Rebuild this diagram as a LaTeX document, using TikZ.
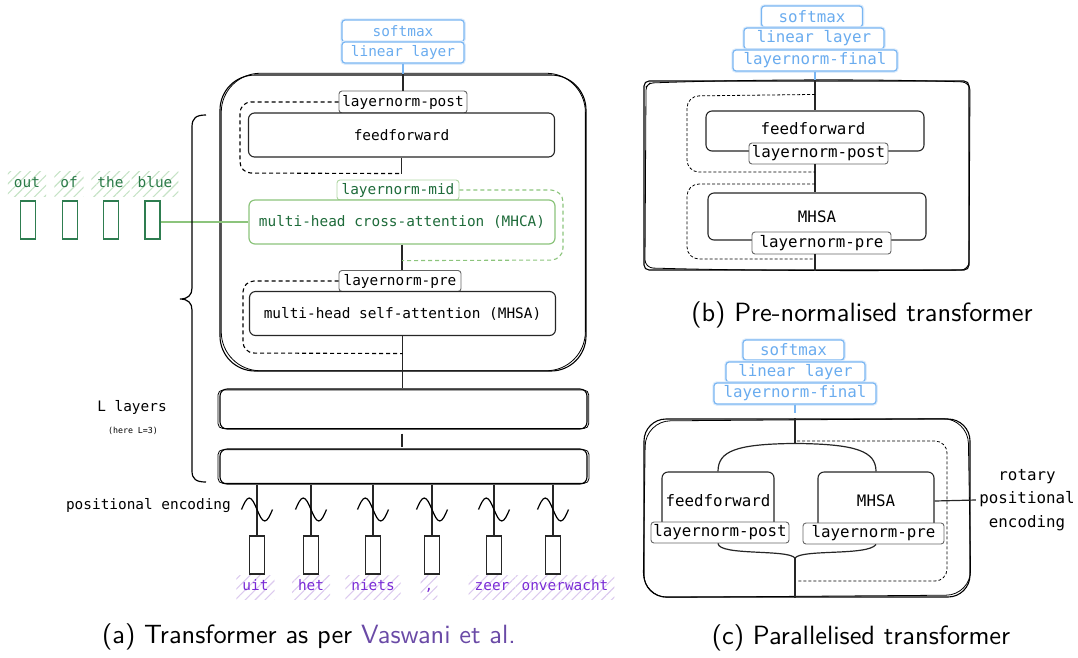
\documentclass[tikz,border=0pt]{standalone}
\usepackage{fontspec}
\setmonofont{DejaVu Sans Mono}
\usetikzlibrary{calc,patterns.meta}

\definecolor{lnblue}{HTML}{7AB6F2}
\definecolor{lnbluetxt}{HTML}{6AACEF}
\definecolor{lnbluehalo}{HTML}{DDECFC}
\definecolor{mhcagreen}{HTML}{8CC47C}
\definecolor{mhcatext}{HTML}{1E6B3A}
\definecolor{tokgreen}{HTML}{2E7D50}
\definecolor{wordgreen}{HTML}{2A7A48}
\definecolor{hatchgreen}{HTML}{C6E3C6}
\definecolor{wordpurple}{HTML}{7A2BD6}
\definecolor{hatchpurple}{HTML}{DCCAEE}
\definecolor{citepurple}{HTML}{6A4AA6}

\begin{document}
\begin{tikzpicture}[x=1pt,y=-1pt,
  monoa/.style={font=\ttfamily\fontsize{14.4}{17}\selectfont},
  monob/.style={font=\ttfamily\fontsize{15.8}{23.3}\selectfont},
  tinymono/.style={font=\ttfamily\fontsize{8.3}{10}\selectfont},
  capfont/.style={font=\sffamily\fontsize{10}{12}\selectfont, scale=2.64},
  sz/.style 2 args={minimum width=#1, minimum height=#2, inner sep=0},
  blockbox/.style={draw=black!85, line width=1.1, rounded corners=6, fill=white},
  greenbox/.style={draw=mhcagreen, line width=1.2, rounded corners=6, text=mhcatext, fill=white},
  normbox/.style={draw=black!60, fill=white, line width=0.9, rounded corners=3},
  gnormbox/.style={draw=mhcagreen!70, fill=white, line width=0.9, rounded corners=3, text=mhcatext},
  bluebox/.style={draw=lnblue, line width=1.2, rounded corners=3, text=lnbluetxt, fill=white,
                  preaction={draw=lnbluehalo, line width=3.5}},
  sketch/.style={draw=black, line width=1.1},
  link/.style={draw=black!85, line width=1.2},
  bluelink/.style={draw=lnblue, line width=1.4},
  glink/.style={draw=mhcagreen, line width=1.3},
  resid/.style={draw=black, line width=1.1, dash pattern=on 4pt off 3pt, rounded corners=11},
  gresid/.style={draw=mhcagreen, line width=1.1, dash pattern=on 4pt off 3pt, rounded corners=12},
  residfine/.style={draw=black, line width=0.8, dash pattern=on 3pt off 2pt, rounded corners=12},
  tokbox/.style={draw=black!85, line width=1.1, sz={15}{38}},
  gtokbox/.style={draw=tokgreen, line width=1.1, sz={15}{38}},
  wave/.style={draw=black, line width=1.2},
  wordp/.style={monoa, text=wordpurple, inner xsep=6, inner ysep=0, minimum height=24,
                text height=10.5, text depth=3,
                pattern={Lines[angle=45,distance=7pt,line width=1.1pt]}, pattern color=hatchpurple},
  wordg/.style={monoa, text=wordgreen, inner xsep=6, inner ysep=0, minimum height=25,
                text height=10.5, text depth=3,
                pattern={Lines[angle=45,distance=7pt,line width=1.1pt]}, pattern color=hatchgreen},
]
\useasboundingbox (0,0) rectangle (1078,657);

% ================= (a) encoder-decoder transformer =================
% layer outlines (hand-drawn look: two strokes each)
\node[sketch, rounded corners=35, sz={366}{296}] (a_l1) at (403,223) {};
\draw[sketch, line width=0.8, rounded corners=39] ($(a_l1.north west)+(1.8,-1.2)$) rectangle ($(a_l1.south east)+(-1.2,-0.8)$);
\node[sketch, rounded corners=7, sz={367}{40}] (a_l2) at (403.5,409) {};
\draw[sketch, line width=0.8, rounded corners=5] ($(a_l2.north west)+(-1.5,1.5)$) rectangle ($(a_l2.south east)+(1.2,-1)$);
\node[sketch, rounded corners=7, sz={367}{35}] (a_l3) at (403.5,466.5) {};
\draw[sketch, line width=0.8, rounded corners=5] ($(a_l3.north west)+(-1.5,1.2)$) rectangle ($(a_l3.south east)+(1.5,-1.2)$);

% output head
\node[bluebox, monoa, sz={122}{22}] (a_soft) at (403,31) {softmax};
\node[bluebox, monoa, sz={122}{21}] (a_lin) at (403,52.5) {linear layer};

% sub-layers
\node[normbox, monoa, sz={128}{22}] (a_ln_post) at (403,102) {layernorm-post};
\node[blockbox, monoa, sz={306}{44}] (a_ff) at (401.5,135) {feedforward};
\node[gnormbox, monoa, sz={122}{20}] (a_ln_mid) at (398,190) {layernorm-mid};
\node[greenbox, monoa, sz={306}{44}] (a_mhca) at (402,222) {multi-head cross-attention (MHCA)};
\node[normbox, monoa, sz={122}{21}] (a_ln_pre) at (400,281) {layernorm-pre};
\node[blockbox, monoa, sz={306}{44}] (a_mhsa) at (402.5,313.5) {multi-head self-attention (MHSA)};

% main path
\coordinate (a_top) at (a_lin.south |- a_l1.north);
\draw[bluelink] (a_lin.south) -- (a_top);
\draw[link] (a_top) -- (a_ln_post.north);
\draw[link] (a_ff.south) -- ++(0,16) coordinate (a_r1);
\draw[link] (a_mhca.south) -- (a_mhca.south |- a_ln_pre.north);
\coordinate (a_r2) at ($(a_mhca.south)+(0,16)$);
\draw[link] (a_mhsa.south) -- (a_mhsa.south |- a_l2.north);
\coordinate (a_r3) at ($(a_mhsa.south)+(0,17.5)$);
\draw[link] ($(a_l2.south)+(-1.5,4)$) -- ($(a_l3.north)+(-1.5,-1)$);

% residual connections
\draw[resid] (a_ln_post.west) -- (240,102) -- (240,173) -- (a_r1);
\draw[gresid] (a_ln_mid.east) -- (563,190) -- (563,260) -- (a_r2);
\draw[resid] (a_ln_pre.west) -- (243,281) -- (243,353) -- (a_r3);

% input tokens with positional encoding
\foreach \x [count=\i] in {257,311,373,432,494,553} {
  \node[tokbox] (tok\i) at (\x,555) {};
  \draw[link] (tok\i.north) -- (tok\i.north |- a_l3.south);
  \draw[wave] (\x-15.5,509.5) sin (\x-7.75,498) cos (\x,509.5) sin (\x+7.75,521) cos (\x+15.5,509.5);
}
\node[wordp] (w1) at (255.5,587) {uit};
\node[wordp] (w2) at (311,587) {het};
\node[wordp] (w3) at (373,587) {niets};
\node[wordp, inner xsep=4] (w4) at (429,587) {,};
\node[wordp] (w5) at (492,587) {zeer};
\node[wordp] (w6) at (565,587) {onverwacht};

% encoder tokens feeding cross-attention
\foreach \x [count=\i] in {28,70,111,152.5} {
  \node[gtokbox] (gt\i) at (\x,220) {};
}
\node[wordg] (gw1) at (27,184) {out};
\node[wordg] (gw2) at (69,184) {of};
\node[wordg] (gw3) at (110.5,184) {the};
\node[wordg] (gw4) at (155,184) {blue};
\draw[glink] (a_mhca.west -| gt4.east) -- (a_mhca.west);

% layer brace and labels
\draw[line width=1.2] (206,115) .. controls (196,115) and (192,118) .. (192,127)
  -- (192,288) .. controls (192,295) and (188,299) .. (180,299)
  .. controls (188,299) and (192,303) .. (192,310)
  -- (192,471) .. controls (192,479) and (196,482) .. (206,482);
\node[monoa] (llayers) at (132,407) {L layers};
\node[tinymono] (lhere) at (133,431) {(here L=3)};
\node[monoa, anchor=east, inner sep=0] (posenc) at (231,506) {positional encoding};

\node[capfont] (cap_a) at (309,637) {(a) Transformer as per \textcolor{citepurple}{Vaswani et al.}};

% ================= (b) pre-normalised transformer =================
\node[sketch, rounded corners=5, sz={325}{189}] (b_blk) at (806.5,175.5) {};
\draw[sketch, line width=0.8, rounded corners=3] (646,87) -- (650,83) .. controls (760,79) and (880,79) .. (965,82) -- (970,87)
  -- (969,265) -- (964,270) .. controls (880,271) and (760,271) .. (650,268) -- (645,263) -- cycle;

\node[bluebox, monob, sz={101}{21}] (b_soft) at (812,16.5) {softmax};
\node[bluebox, monob, sz={140}{21}] (b_lin) at (814,38.5) {linear layer};
\node[bluebox, monob, sz={164}{21}] (b_lnf) at (815,60.5) {layernorm-final};

\node[blockbox, monob, sz={218}{40}] (b_ff) at (815,131) {};
\node[monob] at (813,129) {feedforward};
\node[normbox, monob, sz={139}{21}] (b_ln_post) at (818.5,153.5) {layernorm-post};
\node[blockbox, monob, sz={218}{47}] (b_mhsa) at (817,216.5) {MHSA};
\node[normbox, monob, sz={139}{22}] (b_ln_pre) at (821.5,243) {layernorm-pre};

\coordinate (b_in) at (b_lnf.south |- b_blk.north);
\draw[bluelink] (b_lnf.south) -- (b_in);
\draw[link] (b_in) -- (b_ff.north);
\draw[link] (b_ff.north |- b_ln_post.south) -- (b_ff.north |- b_mhsa.north);
\draw[link] (b_ff.north |- b_ln_pre.south) -- (b_ff.north |- b_blk.south);
\coordinate (b_r1a) at ($(b_in)+(0,14)$);
\coordinate (b_r1b) at (b_ff.north |- 0,172);
\coordinate (b_r2a) at (b_ff.north |- 0,184);
\coordinate (b_r2b) at (b_ff.north |- 0,259);
\draw[residfine] (b_r1a) -- (687,96) -- (687,172) -- (b_r1b);
\draw[residfine] (b_r2a) -- (687,184) -- (687,259) -- (b_r2b);

\node[capfont] (cap_b) at (862,315) {(b) Pre-normalised transformer};

% ================= (c) parallelised transformer =================
\node[sketch, rounded corners=22, sz={326}{178}] (c_blk) at (807,508) {};
\draw[sketch, line width=0.8, rounded corners=25] (645.5,421) -- (968,418.5) -- (971,595) -- (643,597.5) -- cycle;

\node[bluebox, monob, sz={101}{20}] (c_soft) at (793.5,350) {softmax};
\node[bluebox, monob, sz={139}{20}] (c_lin) at (795.5,372) {linear layer};
\node[bluebox, monob, sz={162}{21}] (c_lnf) at (795,393.5) {layernorm-final};

\node[blockbox, monob, sz={112}{58}] (c_ff) at (718,501) {feedforward};
\node[normbox, monob, sz={138}{21}] (c_ln_post) at (720,532.5) {layernorm-post};
\node[blockbox, monob, sz={116}{58}] (c_mhsa) at (876,501) {MHSA};
\node[normbox, monob, sz={141}{21}] (c_ln_pre) at (873.5,533.5) {layernorm-pre};

\coordinate (c_in) at (c_lnf.south |- c_blk.north);
\draw[bluelink] (c_lnf.south) -- ++(0,8);
\draw[link] (c_in) -- ++(0,25) coordinate (c_split);
\draw[link] (c_split) .. controls (736,444) and (718,451) .. (c_ff.north);
\draw[link] (c_split) .. controls (856,444) and (876,451) .. (c_mhsa.north);
\coordinate (c_merge) at (795,558);
\draw[link] (c_ff.north |- c_ln_post.south) .. controls (719,556) and (788,549) .. (c_merge);
\draw[link] (c_mhsa.north |- c_ln_pre.south) .. controls (868,556) and (802,549) .. (c_merge);
\draw[link] (c_merge) -- (c_merge |- c_blk.south);
\draw[residfine] (797,441) -- (947,441) -- (947,581) -- (797,581);

\node[monob, align=center] (c_rot) at (1027,500) {rotary\\positional\\encoding};
\draw[link] (c_rot.west) -- (c_mhsa.east);

\node[capfont] (cap_c) at (861,638) {(c) Parallelised transformer};
\end{tikzpicture}
\end{document}
